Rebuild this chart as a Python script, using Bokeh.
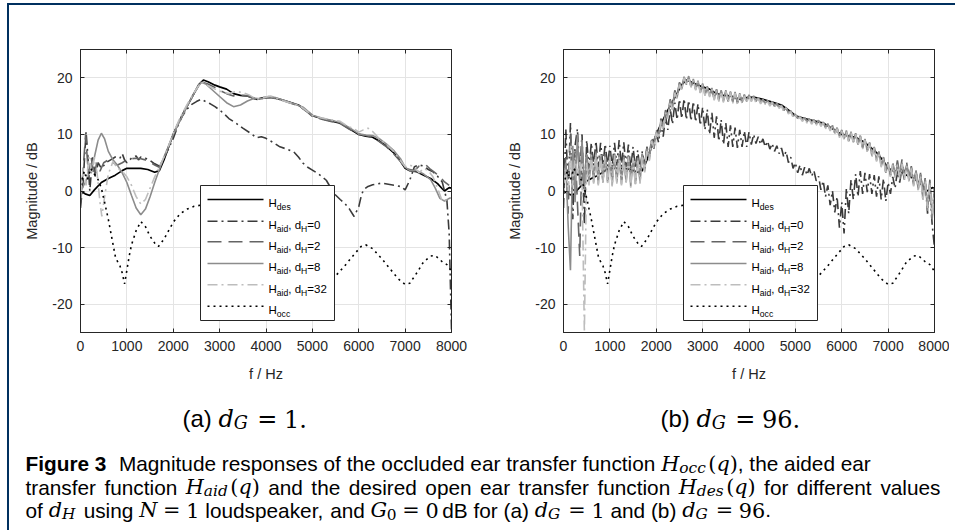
from bokeh.plotting import figure
from bokeh.models import Range1d, LinearAxis, FixedTicker, ColumnDataSource, Div
from bokeh.layouts import row, column
from bokeh.embed import file_html
from bokeh.resources import INLINE
from bokeh.core.properties import value

# ---------------- data ----------------
x_ticks = [0, 1000, 2000, 3000, 4000, 5000, 6000, 7000, 8000]
x_tick_labels = ["0", "1000", "2000", "3000", "4000", "5000", "6000", "7000", "8000"]
y_ticks = [-20, -10, 0, 10, 20]
y_tick_labels = ["-20", "-10", "0", "10", "20"]

series_labels = ["des", "aid0", "aid2", "aid8", "aid32", "occ"]
dH_values = ["0", "2", "8", "32"]

# desired open-ear response (same in both panels)
f_des = [0, 100, 200, 300, 450, 600, 750, 900, 1000, 1150, 1300, 1450, 1600, 1700, 1800, 1900,
         2000, 2100, 2250, 2400, 2550, 2650, 2750, 2900, 3000, 3150, 3300, 3450, 3600, 3800,
         3950, 4100, 4300, 4500, 4700, 4900, 5000, 5200, 5400, 5600, 5800, 6000, 6150, 6300,
         6450, 6600, 6750, 6900, 7000, 7100, 7250, 7400, 7550, 7700, 7800, 7850, 7900, 7950, 8000]
H_des = [0.0, -0.5, -0.8, 0.2, 1.5, 2.2, 2.8, 3.6, 4.0, 4.0, 4.0, 3.8, 3.3, 3.6, 5.5, 7.8,
         10.0, 11.8, 14.3, 16.5, 18.8, 19.6, 19.3, 18.7, 18.4, 18.0, 17.2, 16.9, 16.8, 16.2,
         16.5, 16.6, 16.2, 15.7, 15.2, 14.0, 13.3, 12.8, 12.4, 12.0, 11.0, 10.0, 9.7, 9.5,
         8.8, 7.9, 6.8, 5.3, 4.0, 3.6, 3.4, 2.8, 2.2, 1.3, 0.4, 0.0, 0.3, 0.6, 0.5]

# occluded ear response (same in both panels)
f_occ = [0, 80, 150, 220, 300, 380, 450, 520, 600, 680, 750, 800, 850, 900, 950, 1000, 1050,
         1100, 1200, 1300, 1400, 1500, 1600, 1680, 1800, 1900, 2000, 2150, 2300, 2450, 2600,
         2800, 3000, 3300, 3600, 4000, 4400, 4800, 5100, 5300, 5500, 5700, 5900, 6050, 6150,
         6300, 6500, 6700, 6850, 7000, 7100, 7250, 7400, 7550, 7650, 7800, 7900, 8000]
H_occ = [1.0, 3.5, 2.0, 4.0, 3.0, 2.0, 0.5, -2.0, -5.0, -8.5, -11.5, -12.5, -13.2, -14.5, -16.4,
         -14.0, -11.5, -9.5, -7.0, -5.4, -6.3, -8.0, -9.2, -9.8, -8.5, -7.0, -5.5, -4.0, -3.2,
         -2.7, -2.5, -3.0, -4.0, -6.0, -8.5, -11.5, -14.0, -15.8, -16.5, -16.2, -15.0, -13.2,
         -11.2, -9.8, -9.5, -10.2, -12.0, -14.0, -15.5, -16.5, -16.3, -14.5, -12.5, -11.5,
         -11.4, -12.5, -13.0, -14.2]

# ---- panel (a): d_G = 1 ----
f_aid0_a = [0, 60, 120, 160, 200, 260, 320, 380, 450, 550, 650, 750, 850, 900, 950, 1000, 1100,
            1200, 1250, 1300, 1400, 1500, 1600, 1700, 1800, 1900, 2000, 2100, 2200, 2300, 2400,
            2500, 2600, 2700, 2800, 2900, 3000, 3100, 3200, 3350, 3500, 3650, 3800, 3900, 4000,
            4150, 4300, 4450, 4600, 4700, 4800, 4900, 5000, 5150, 5300, 5400, 5500, 5600, 5700,
            5800, 5900, 6000, 6050, 6100, 6200, 6300, 6500, 6700, 6900, 7000, 7100, 7200, 7300,
            7400, 7500, 7600, 7700, 7800, 7850, 7900, 7950, 8000]
H_aid0_a = [-3.0, 2.0, 10.5, 6.0, 0.0, 6.0, 2.5, 5.0, 4.0, 5.0, 5.5, 6.0, 5.8, 6.6, 5.5, 5.0, 5.8,
            6.2, 5.5, 6.0, 5.8, 5.4, 4.8, 4.4, 5.8, 7.5, 9.3, 11.5, 13.3, 14.5, 15.3,
            15.8, 16.2, 15.8, 15.4, 14.9, 14.3, 13.6, 12.8, 12.0, 11.1, 10.3, 9.4, 9.6, 9.3,
            8.6, 7.8, 7.4, 6.9, 6.0, 4.9, 4.2, 3.7, 2.9, 1.9, 0.5, -0.7, -1.5, -2.2,
            -3.2, -4.5, -2.8, -1.0, 0.2, 0.8, 1.1, 1.4, 1.1, 0.8, 0.2, 1.9, 4.3, 4.6,
            4.4, 3.8, 3.4, 2.6, 1.6, 0.0, -1.6, -7.5, -24.5]

f_aid2_a = [0, 50, 110, 170, 230, 290, 350, 420, 500, 600, 700, 800, 900, 1000, 1100, 1200, 1300,
            1400, 1500, 1600, 1700, 1800, 1900, 2000, 2150, 2300, 2450, 2600, 2750, 2900, 3000,
            3150, 3300, 3450, 3600, 3800, 3950, 4100, 4300, 4500, 4700, 4900, 5000, 5200, 5400,
            5600, 5800, 6000, 6150, 6300, 6450, 6600, 6750, 6900, 7000, 7100, 7200, 7300, 7450,
            7550, 7650, 7750, 7850, 7950]
H_aid2_a = [-2.0, 3.0, 10.0, 3.0, 6.0, 2.5, 5.0, 3.5, 5.0, 5.5, 5.0, 4.6, 5.0, 5.5, 5.7, 5.8, 5.7,
            5.5, 5.1, 4.6, 4.2, 5.8, 7.8, 10.0, 12.8, 15.0, 17.3, 19.3, 18.9, 18.3, 17.8,
            17.2, 16.8, 16.9, 16.8, 16.1, 16.4, 16.5, 16.2, 15.6, 15.1, 13.9, 13.2, 12.7, 12.3,
            11.9, 10.9, 10.0, 9.8, 9.5, 8.7, 7.8, 6.6, 5.2, 4.0, 3.8, 3.6, 4.4, 4.6,
            3.8, 3.2, 2.5, 1.6, 1.0]

f_aid8_a = [0, 100, 200, 300, 380, 450, 520, 600, 700, 800, 900, 1000, 1100, 1200, 1300, 1400,
            1500, 1600, 1700, 1800, 1900, 2000, 2150, 2300, 2450, 2600, 2700, 2850, 3000, 3150,
            3300, 3450, 3600, 3750, 3900, 4050, 4200, 4400, 4600, 4800, 5000, 5200, 5400, 5600,
            5800, 6000, 6150, 6300, 6450, 6600, 6750, 6900, 7000, 7100, 7250, 7400, 7550, 7650,
            7750, 7850, 7950, 8000]
H_aid8_a = [0.0, 1.5, 3.5, 6.0, 9.0, 10.2, 9.2, 7.0, 5.5, 4.5, 3.2, 1.5, -0.8, -3.0, -4.2, -3.2,
            -1.0, 1.5, 3.8, 6.0, 8.0, 10.0, 12.5, 15.0, 17.3, 19.2, 18.9, 17.8, 16.7, 15.6,
            14.9, 15.2, 15.9, 16.4, 16.3, 16.7, 16.5, 16.0, 15.4, 14.8, 13.4, 12.9, 12.5, 12.1,
            11.2, 10.1, 9.9, 9.8, 9.2, 8.3, 7.2, 5.7, 4.2, 3.6, 3.6, 3.0, 2.0, 0.5,
            -1.3, -1.8, -1.3, -1.2]

f_aid32_a = [0, 60, 120, 180, 240, 300, 360, 420, 460, 520, 600, 700, 800, 900, 1000, 1100, 1200,
             1300, 1400, 1500, 1600, 1700, 1800, 1900, 2000, 2150, 2300, 2450, 2600, 2750, 2900,
             3050, 3200, 3350, 3500, 3650, 3800, 3950, 4100, 4300, 4500, 4700, 4900, 5000, 5200,
             5400, 5600, 5750, 5900, 6000, 6100, 6200, 6300, 6450, 6600, 6750, 6900, 7000, 7100,
             7200, 7300, 7400, 7500, 7600, 7700, 7800, 7900, 8000]
H_aid32_a = [-1.0, 4.0, 1.0, 6.0, 3.0, 6.0, 3.0, -2.0, -4.5, -1.0, 3.0, 5.2, 4.0, 3.5, 2.5, 1.0, -1.0,
             -2.3, -1.5, 0.5, 2.5, 4.2, 6.0, 8.0, 10.2, 13.0, 15.3, 17.4, 19.3, 18.6, 18.0,
             17.5, 17.2, 17.6, 17.4, 16.9, 16.2, 16.5, 16.8, 16.1, 15.6, 15.2, 14.0, 13.3, 12.9,
             12.6, 12.3, 11.5, 11.0, 10.4, 10.8, 11.1, 10.5, 9.2, 8.2, 7.0, 5.4, 4.3, 4.6,
             4.2, 3.2, 4.0, 3.6, 2.5, 0.5, -1.8, -1.5, -1.2]

# ---- panel (b): d_G = 96 (rippled), sampled every 50 Hz ----
f_b = list(range(0, 8001, 50))
H_aid0_b = [
    -3, 11, 0, 12, -5, 8, 11, 3, 10, -6,
    9, 4, 8.5, 4.5, 8.8, 4.2, 8.5, 4.6, 8.3, 4.4,
    8.0, 4.2, 8.5, 4.5, 9.0, 4.3, 8.6, 4.2, 8.2, 3.8,
    7.8, 4.0, 7.2, 3.6, 7.0, 4.5, 7.8, 6.0, 9.0, 7.5,
    10.2, 8.6, 11.8, 9.6, 13.2, 10.8, 14.6, 11.8, 15.6, 12.6,
    16.2, 12.8, 16.3, 12.6, 16.0, 12.4, 15.8, 12.2, 15.4, 11.6,
    14.8, 10.8, 14.4, 10.0, 13.8, 9.4, 13.2, 8.8, 12.6, 8.2,
    12.0, 7.8, 11.6, 7.8, 11.2, 7.6, 10.8, 7.8, 10.6, 7.8,
    10.4, 8.2, 10.0, 8.4, 9.6, 8.2, 9.2, 7.8, 8.8, 7.4,
    8.4, 7.0, 8.0, 6.6, 7.6, 6.0, 7.0, 5.0, 6.0, 4.0,
    5.0, 3.2, 4.6, 2.8, 4.2, 2.8, 4.0, 2.6, 3.6, 1.8,
    2.6, 0.2, 1.8, -1.0, 1.0, -2.5, 0.0, -3.8, -1.0, -6.5,
    -2.0, -7.5, 0.5, -4.0, 2.0, -1.5, 3.0, -1.0, 3.5, -0.5,
    3.2, -0.2, 3.0, -0.5, 2.8, -1.0, 2.6, -1.5, 2.2, -1.8,
    1.5, -0.5, 2.5, 0.5, 3.5, 1.5, 4.2, 2.0, 4.5, 2.2,
    4.0, 1.6, 3.4, 0.8, 3.0, -0.5, 2.0, -4.0, 0.5, -6.0,
    -10]
H_aid2_b = [
    0, 6, -4, 10, 2, 7, -2, -11.5, 8, 2,
    7, 2, 6.8, 1.8, 7, 2, 6.8, 1.5, 6.5, 1.8,
    6.8, 1.5, 6.6, 2.0, 6.5, 1.6, 6.4, 2.0, 6.3, 1.5,
    6.2, 1.8, 6.0, 2.2, 6.8, 4.0, 7.8, 6.0, 9.4, 8.2,
    10.8, 9.8, 12.8, 11.4, 14.3, 13.3, 16.2, 14.8, 17.8, 16.8,
    19.2, 18.2, 20.0, 18.8, 20.0, 18.4, 19.6, 18.0, 19.2, 17.4,
    18.8, 17.0, 18.4, 16.6, 18.0, 16.2, 17.9, 16.0, 17.7, 15.9,
    17.6, 15.9, 17.4, 15.8, 17.3, 15.6, 17.2, 15.7, 17.0, 15.9,
    16.9, 16.1, 16.7, 15.9, 16.4, 15.7, 16.1, 15.5, 15.9, 15.3,
    15.7, 15.0, 15.4, 14.7, 15.0, 14.3, 14.6, 13.9, 14.0, 13.3,
    13.5, 12.9, 13.1, 12.6, 12.9, 12.3, 12.7, 12.1, 12.5, 11.9,
    12.4, 11.7, 12.1, 11.3, 11.8, 10.9, 11.5, 10.3, 11.1, 9.7,
    10.7, 9.3, 10.6, 8.9, 10.4, 8.7, 10.1, 8.3, 9.7, 7.7,
    9.1, 7.1, 8.5, 6.3, 7.7, 5.5, 6.9, 4.5, 5.9, 3.3,
    5.2, 2.8, 5.0, 2.8, 5.4, 3.0, 5.6, 2.8, 5.0, 2.2,
    4.4, 1.2, 3.8, 0.4, 3.2, -1.0, 2.4, -3.0, 2.0, -4.5,
    0.8]
H_aid8_b = [
    1.5, 5, -6, -14, 8, -2, 10, 1, 9, 0,
    6.5, 1.5, 6.5, 1.5, 6.8, 1.2, 6.5, 1.8, 6.2, 1.5,
    6.2, 1.0, 6.5, 1.5, 6.3, 1.2, 6.0, 1.5, 6.2, 0.8,
    6.0, 1.2, 5.8, 1.5, 6.5, 3.5, 7.5, 5.5, 9.0, 7.8,
    10.5, 9.5, 12.5, 11.0, 14.0, 13.0, 16.0, 14.5, 17.5, 16.5,
    19.0, 18.0, 20.2, 19.0, 20.3, 18.5, 19.8, 18.0, 19.5, 17.5,
    19.0, 17.0, 18.5, 16.8, 18.2, 16.2, 18.0, 16.0, 17.8, 15.8,
    17.8, 15.8, 17.6, 15.7, 17.5, 15.5, 17.3, 15.6, 17.0, 15.8,
    17.0, 16.0, 16.8, 15.8, 16.5, 15.6, 16.2, 15.5, 16.0, 15.2,
    15.8, 15.0, 15.5, 14.8, 15.2, 14.2, 14.8, 13.8, 14.2, 13.2,
    13.6, 12.8, 13.2, 12.5, 13.0, 12.2, 12.8, 12.0, 12.6, 11.8,
    12.5, 11.6, 12.2, 11.2, 11.9, 10.8, 11.6, 10.2, 11.2, 9.6,
    10.8, 9.2, 10.7, 8.8, 10.5, 8.6, 10.2, 8.2, 9.8, 7.6,
    9.2, 7.0, 8.6, 6.2, 7.8, 5.4, 7.0, 4.4, 6.0, 3.2,
    5.0, 2.6, 4.8, 2.5, 4.8, 2.4, 5.0, 2.2, 4.6, 1.8,
    4.2, 1.0, 3.6, 0.2, 3.0, -1.5, 2.0, -3.5, 1.5, -5.0,
    0.5]
H_aid32_b = [
    1, 4, 0, 8, 1, 6, 3, 5, 2, -25,
    5, 1, 6.3, 1.3, 6.6, 1.0, 6.3, 1.6, 6.0, 1.3,
    6.0, 0.8, 6.3, 1.3, 6.1, 1.0, 5.8, 1.3, 6.0, 0.6,
    5.8, 1.0, 5.6, 1.3, 6.3, 3.3, 7.3, 5.3, 8.8, 7.6,
    10.3, 9.3, 12.3, 10.8, 13.8, 12.8, 15.8, 14.3, 17.3, 16.3,
    18.8, 17.8, 20.0, 18.8, 20.1, 18.3, 19.6, 17.8, 19.3, 17.3,
    18.8, 16.8, 18.3, 16.6, 18.0, 16.0, 17.8, 15.8, 17.6, 15.6,
    17.6, 15.6, 17.4, 15.5, 17.3, 15.3, 17.1, 15.4, 16.8, 15.6,
    16.8, 15.8, 16.6, 15.6, 16.3, 15.4, 16.0, 15.3, 15.8, 15.0,
    15.6, 14.8, 15.3, 14.6, 15.0, 14.0, 14.6, 13.6, 14.0, 13.0,
    13.4, 12.6, 13.0, 12.3, 12.8, 12.0, 12.6, 11.8, 12.4, 11.6,
    12.3, 11.4, 12.0, 11.0, 11.7, 10.6, 11.4, 10.0, 11.0, 9.4,
    10.6, 9.0, 10.5, 8.6, 10.3, 8.4, 10.0, 8.0, 9.6, 7.4,
    9.0, 6.8, 8.4, 6.0, 7.6, 5.2, 6.8, 4.2, 5.8, 3.0,
    4.8, 2.4, 4.6, 2.3, 4.6, 2.2, 4.8, 2.0, 4.4, 1.6,
    4.0, 0.8, 3.4, 0.0, 2.8, -1.8, 1.8, -3.0, 1.2, -4.0,
    0.2]

# ---------------- styles ----------------
FONT = "Liberation Sans"
MATH = "DejaVu Serif"
AX_COL = "#262626"
STY = {
    "des":   dict(color="#000000", dash="solid",    width=1.7),
    "aid0":  dict(color="#3a3a3a", dash="10 4 2 4", width=1.6),
    "aid2":  dict(color="#646464", dash="14 7",     width=1.6),
    "aid8":  dict(color="#8c8c8c", dash="solid",    width=1.6),
    "aid32": dict(color="#bdbdbd", dash="10 4 2 4", width=1.6),
    "occ":   dict(color="#000000", dash="2 4",      width=1.6),
}

FRAME_W, FRAME_H = 371, 283


def fx(px):
    return px / FRAME_W * 8000.0


def fy(py):
    return 25.0 - py / FRAME_H * 50.0


HELV = {' ': .278, '(': .333, ')': .333, ',': .278, '-': .333, '.': .278, '/': .278, '=': .584,
        'B': .667, 'F': .611, 'G': .778, 'H': .722, 'M': .833, 'N': .722,
        'a': .556, 'b': .556, 'c': .5, 'd': .556, 'e': .556, 'f': .278, 'g': .556, 'h': .556,
        'i': .222, 'k': .5, 'l': .222, 'm': .833, 'n': .556, 'o': .556, 'p': .556, 'q': .556,
        'r': .333, 's': .5, 't': .278, 'u': .556, 'v': .5, 'w': .722, 'x': .5, 'y': .5, 'z': .5}
HELVB = {' ': .278, 'F': .611, 'i': .278, 'g': .611, 'u': .611, 'r': .389, 'e': .556}
DVSI = {'H': .872, 'd': .640, 'q': .640, 'N': .872, 'G': .775, 'o': .602, 'c': .560, 'a': .596,
        'i': .320, 'e': .592, 's': .513}
DVSR = {'(': .390, ')': .390, '=': .838, '.': .318, ' ': .318}
TABLES = {"sans": HELV, "sansb": HELVB, "mi": DVSI, "mr": DVSR}
FONTS = {"sans": (FONT, "normal"), "sansb": (FONT, "bold"),
         "mi": (MATH, "italic"), "mr": (MATH, "normal")}


def text_w(s, style, size):
    tab = TABLES[style]
    dflt = 0.556 if style in ("sans", "sansb") else 0.636
    return sum(tab.get(c, dflt) for c in s) * size


def tokenize(runs):
    toks = []
    for txt, style, rel, dy in runs:
        if style == "gap":
            toks.append(("gap", rel))
            continue
        words = txt.split(" ")
        for i, w in enumerate(words):
            if i > 0:
                toks.append(("space", style, rel))
            if w:
                toks.append(("word", w, style, rel, dy))
    return toks


def layout_line(runs, x0, y0, size, out, right=None):
    toks = tokenize(runs)

    def adv(t):
        if t[0] == "gap":
            return t[1] * size
        if t[0] == "space":
            return text_w(" ", t[1], size * t[2])
        return text_w(t[1], t[2], size * t[3])

    nat = sum(adv(t) for t in toks)
    nsp = sum(1 for t in toks if t[0] == "space")
    extra = (right - x0 - nat) / nsp if (right is not None and nsp) else 0.0
    x = x0
    for t in toks:
        if t[0] == "word":
            out.append((x, y0 + t[4] * size, t[1], t[2], size * t[3]))
        x += adv(t) + (extra if t[0] == "space" else 0.0)
    return x


def draw_runs(p, items, color):
    groups = {}
    for x, y, t, style, fs in items:
        groups.setdefault((style, round(fs, 2)), []).append((x, y, t))
    for (style, fs), lst in groups.items():
        font, fstyle = FONTS[style]
        src = ColumnDataSource(dict(x=[a[0] for a in lst], y=[a[1] for a in lst],
                                    t=[a[2] for a in lst]))
        p.text(x="x", y="y", text="t", source=src, text_font=value(font),
               text_font_style=fstyle, text_font_size=f"{fs}px", text_color=color,
               text_align="left", text_baseline="alphabetic")


def style_axis(ax, ticks, labels, show):
    ax.ticker = FixedTicker(ticks=ticks)
    ax.major_label_overrides = {t: (l if show else "") for t, l in zip(ticks, labels)}
    ax.major_tick_in = 4
    ax.major_tick_out = 0
    ax.minor_tick_in = 0
    ax.minor_tick_out = 0
    ax.axis_line_color = AX_COL
    ax.axis_line_width = 1
    ax.major_tick_line_color = AX_COL
    ax.major_label_text_font = FONT
    ax.major_label_text_font_size = "14px" if show else "0px"
    ax.major_label_text_color = AX_COL
    ax.axis_label_text_font = FONT
    ax.axis_label_text_font_size = "14.5px"
    ax.axis_label_text_font_style = "normal"
    ax.axis_label_text_color = AX_COL


def make_panel(width, left, right, curves):
    p = figure(width=width, height=387, x_range=Range1d(0, 8000), y_range=Range1d(-25, 25),
               output_backend="svg", toolbar_location=None,
               min_border_left=left, min_border_right=right,
               min_border_top=44, min_border_bottom=60)
    p.background_fill_color = "white"
    p.border_fill_color = "white"
    p.outline_line_color = AX_COL
    p.outline_line_width = 1
    style_axis(p.xaxis[0], x_ticks, x_tick_labels, True)
    style_axis(p.yaxis[0], y_ticks, y_tick_labels, True)
    p.xaxis[0].axis_label = "f / Hz"
    p.yaxis[0].axis_label = "Magnitude / dB"
    p.xaxis[0].major_label_standoff = 8
    p.xaxis[0].axis_label_standoff = 12
    p.yaxis[0].major_label_standoff = 8
    p.yaxis[0].axis_label_standoff = 9
    top = LinearAxis()
    style_axis(top, x_ticks, x_tick_labels, False)
    p.add_layout(top, "above")
    rgt = LinearAxis()
    style_axis(rgt, y_ticks, y_tick_labels, False)
    p.add_layout(rgt, "right")
    p.xgrid[0].ticker = FixedTicker(ticks=x_ticks)
    p.ygrid[0].ticker = FixedTicker(ticks=y_ticks)
    p.grid.grid_line_color = "#e4e4e4"
    p.grid.grid_line_width = 1

    for key, fx_, fy_ in curves:
        s = STY[key]
        p.line(fx_, fy_, line_color=s["color"], line_dash=s["dash"], line_width=s["width"])

    # legend (custom, to allow subscripts)
    p.quad(left=fx(120), right=fx(254), top=fy(136), bottom=fy(271),
           fill_color="white", line_color=AX_COL, line_width=1)
    rows_y = [150, 171.7, 192.3, 214.0, 235.3, 256.8]
    items = []
    for key, ry in zip(series_labels, rows_y):
        s = STY[key]
        p.line([fx(127), fx(183)], [fy(ry), fy(ry)], line_color=s["color"],
               line_dash=s["dash"], line_width=s["width"])
        if key == "des":
            runs = [("H", "sans", 1, 0), ("des", "sans", 0.75, 0)]
        elif key == "occ":
            runs = [("H", "sans", 1, 0), ("occ", "sans", 0.75, 0)]
        else:
            runs = [("H", "sans", 1, 0), ("aid", "sans", 0.75, 0), (", d", "sans", 1, 0),
                    ("H", "sans", 0.75, 0),
                    ("=" + dH_values[series_labels.index(key) - 1], "sans", 1, 0)]
        x = 188.0
        for txt, st, rel, _ in runs:
            fs = 11.5 * rel
            body = txt.lstrip(" ")
            x += text_w(txt[:len(txt) - len(body)], st, fs)
            yy = fy(ry + 3.8) if rel == 1 else fy(ry + 7.8)
            items.append((fx(x), yy, body, st, fs))
            x += text_w(body, st, fs)
    draw_runs(p, items, "#000000")
    return p


curves_a = [("des", f_des, H_des), ("aid0", f_aid0_a, H_aid0_a), ("aid2", f_aid2_a, H_aid2_a),
            ("aid8", f_aid8_a, H_aid8_a), ("aid32", f_aid32_a, H_aid32_a), ("occ", f_occ, H_occ)]
curves_b = [("des", f_des, H_des), ("aid0", f_b, H_aid0_b), ("aid2", f_b, H_aid2_b),
            ("aid8", f_b, H_aid8_b), ("aid32", f_b, H_aid32_b), ("occ", f_occ, H_occ)]

p1 = make_panel(469, 71, 27, curves_a)
p2 = make_panel(471, 85, 15, curves_b)

# ---------------- captions ----------------
CAP_BOTTOM = 530
p3 = figure(width=940, height=CAP_BOTTOM - 392, x_range=Range1d(9, 949),
            y_range=Range1d(CAP_BOTTOM, 392),
            output_backend="svg", toolbar_location=None, min_border=0,
            x_axis_location=None, y_axis_location=None)
p3.outline_line_color = None
p3.grid.visible = False
p3.background_fill_color = "white"
p3.border_fill_color = "white"

EQ = [("", "gap", 0.2777, 0), ("=", "mr", 1, 0), ("", "gap", 0.2777, 0)]
Q = [("(", "mr", 1, 0), ("q", "mi", 1, 0), (")", "mr", 1, 0)]


def msub(b, s, sub_style="mi"):
    return [(b, "mi", 1, 0), (s, sub_style, 0.74, 0.2), ("", "gap", 0.12, 0)]


cap_items = []
SUB = 24
layout_line([("(a) ", "sans", 1, 0)] + msub("d", "G") + EQ + [("1.", "mr", 1, 0)],
            182, 418, SUB, cap_items)
layout_line([("(b) ", "sans", 1, 0)] + msub("d", "G") + EQ + [("96.", "mr", 1, 0)],
            660, 418, SUB, cap_items)

CS = 20.8
line1 = ([("Figure 3", "sansb", 1, 0), ("", "gap", 0.6, 0),
          ("Magnitude responses of the occluded ear transfer function ", "sans", 1, 0)]
         + msub("H", "occ") + Q + [(", the aided ear", "sans", 1, 0)])
line2 = ([("transfer function ", "sans", 1, 0)] + msub("H", "aid") + Q
         + [(" and the desired open ear transfer function ", "sans", 1, 0)]
         + msub("H", "des") + Q + [(" for different values", "sans", 1, 0)])
line3 = ([("of ", "sans", 1, 0)] + msub("d", "H") + [(" using ", "sans", 1, 0)]
         + [("N", "mi", 1, 0)] + EQ + [("1", "mr", 1, 0), (" loudspeaker, and ", "sans", 1, 0)]
         + [("G", "mi", 1, 0), ("0", "mr", 0.74, 0.2)] + EQ
         + [("0", "mr", 1, 0), ("", "gap", 0.17, 0), ("dB", "sans", 1, 0),
            (" for (a) ", "sans", 1, 0)]
         + msub("d", "G") + EQ + [("1", "mr", 1, 0), (" and (b) ", "sans", 1, 0)]
         + msub("d", "G") + EQ + [("96", "mr", 1, 0), (".", "sans", 1, 0)])
layout_line(line1, 25, 463, CS, cap_items)
layout_line(line2, 25, 486.5, CS, cap_items, right=940)
layout_line(line3, 25, 509.5, CS, cap_items)
draw_runs(p3, cap_items, "#000000")

# ---------------- frame bars + layout ----------------
NAVY = "#00305f"
left_bar = Div(text="", width=2, height=CAP_BOTTOM - 3, margin=0,
               styles={"background-color": NAVY})
top_bar = Div(text="", width=946, height=2, margin=0, styles={"background-color": NAVY})

layout = row(left_bar, column(top_bar, row(p1, p2), p3), margin=(3, 0, 0, 7))

open("out.html", "w").write(file_html(layout, INLINE))
